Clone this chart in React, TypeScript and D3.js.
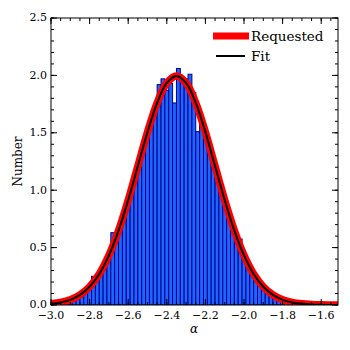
import React from "react";
import * as d3 from "d3";

// histogram bins (left edges), width 0.02
const binStart = -2.93;
const binWidth = 0.02;
const binValues = [
  0.02, 0.04, 0.05, 0.07, 0.1, 0.12, 0.15, 0.25, 0.23, 0.29, 0.35, 0.42, 0.63,
  0.58, 0.68, 0.79, 0.9, 1.02, 1.14, 1.26, 1.38, 1.49, 1.62, 1.72, 1.92, 1.97,
  1.87, 1.93, 1.76, 2.06, 1.98, 1.97, 2.01, 1.85, 1.51, 1.58, 1.49, 1.38, 1.26,
  1.15, 1.02, 0.9, 0.8, 0.69, 0.59, 0.575, 0.42, 0.35, 0.29, 0.24, 0.19, 0.17,
  0.12, 0.09, 0.07, 0.05, 0.03,
];

// fitted / requested curve
const curveX = [
  -3.0, -2.95, -2.9, -2.85, -2.8, -2.75, -2.7, -2.65, -2.6, -2.55, -2.5, -2.45,
  -2.4, -2.35, -2.3, -2.25, -2.2, -2.15, -2.1, -2.05, -2.0, -1.95, -1.9, -1.85,
  -1.8, -1.75, -1.7, -1.65, -1.6, -1.55, -1.5,
];
const curveY = [
  0.01, 0.022, 0.045, 0.088, 0.159, 0.27, 0.432, 0.648, 0.914, 1.21, 1.506,
  1.761, 1.934, 1.995, 1.934, 1.761, 1.506, 1.21, 0.914, 0.648, 0.432, 0.27,
  0.159, 0.088, 0.045, 0.022, 0.01, 0.004, 0.0015, 0.0005, 0.0001,
];

const xTicks = [-3.0, -2.8, -2.6, -2.4, -2.2, -2.0, -1.8, -1.6];
const yTicks = [0.0, 0.5, 1.0, 1.5, 2.0, 2.5];
const legendLabels = ["Requested", "Fit"];

const font = "'DejaVu Serif', serif";

const App = () => {
  const left = 51;
  const right = 338;
  const top = 18;
  const bottom = 305;

  const x = d3.scaleLinear().domain([-3.0, -1.513]).range([left, right]);
  const y = d3.scaleLinear().domain([0, 2.5]).range([bottom, top]);

  const xMinor = d3.range(-3.0, -1.5, 0.05).filter((v) => x(v) <= right + 0.5);
  const yMinor = d3.range(0, 2.51, 0.1);

  const pts = curveX.map((v, i) => [v, curveY[i]] as [number, number]);
  const line = d3
    .line<[number, number]>()
    .x((d) => x(d[0]))
    .y((d) => y(d[1]))
    .curve(d3.curveCatmullRom);
  const path = line(pts) || "";

  const fmt = (v: number) => d3.format(".1f")(v).replace("-", "\u2212");

  return (
    <div style={{ position: "fixed", left: 0, top: 0 }}>
      <svg width={350} height={350} style={{ display: "block", background: "#fff" }}>
        <defs>
          <clipPath id="plot">
            <rect x={left} y={top} width={right - left} height={bottom - top} />
          </clipPath>
        </defs>

        {/* bars */}
        <g clipPath="url(#plot)">
          {binValues.map((v, i) => {
            const x0 = binStart + i * binWidth;
            return (
              <rect
                key={i}
                x={x(x0)}
                y={y(v)}
                width={x(x0 + binWidth) - x(x0)}
                height={y(0) - y(v)}
                fill="#1e64ff"
                stroke="#00008b"
                strokeWidth={1}
              />
            );
          })}
          {/* curves */}
          <path d={path} fill="none" stroke="#ff0000" strokeWidth={7.5} />
          <path d={path} fill="none" stroke="#000" strokeWidth={2} />
        </g>

        {/* frame */}
        <rect
          x={left}
          y={top}
          width={right - left}
          height={bottom - top}
          fill="none"
          stroke="#000"
          strokeWidth={1}
        />

        {/* minor ticks */}
        {xMinor.map((v, i) => (
          <g key={"xm" + i}>
            <line x1={x(v)} x2={x(v)} y1={bottom} y2={bottom - 3} stroke="#000" />
            <line x1={x(v)} x2={x(v)} y1={top} y2={top + 3} stroke="#000" />
          </g>
        ))}
        {yMinor.map((v, i) => (
          <g key={"ym" + i}>
            <line x1={left} x2={left + 3} y1={y(v)} y2={y(v)} stroke="#000" />
            <line x1={right} x2={right - 3} y1={y(v)} y2={y(v)} stroke="#000" />
          </g>
        ))}

        {/* major x ticks */}
        {xTicks.map((t, i) => (
          <g key={"xt" + i}>
            <line x1={x(t)} x2={x(t)} y1={bottom} y2={bottom - 6} stroke="#000" />
            <line x1={x(t)} x2={x(t)} y1={top} y2={top + 6} stroke="#000" />
            <text
              x={x(t)}
              y={bottom + 6}
              dy="0.76em"
              textAnchor="middle"
              fontSize={11}
              fontFamily={font}
              fill="#000"
            >
              {fmt(t)}
            </text>
          </g>
        ))}

        {/* major y ticks */}
        {yTicks.map((t, i) => (
          <g key={"yt" + i}>
            <line x1={left} x2={left + 6} y1={y(t)} y2={y(t)} stroke="#000" />
            <line x1={right} x2={right - 6} y1={y(t)} y2={y(t)} stroke="#000" />
            <text
              x={left - 4}
              y={y(t)}
              dy="0.3em"
              textAnchor="end"
              fontSize={11}
              fontFamily={font}
              fill="#000"
            >
              {fmt(t)}
            </text>
          </g>
        ))}

        {/* axis labels */}
        <text
          x={194}
          y={333}
          textAnchor="middle"
          fontSize={12}
          fontStyle="italic"
          fontFamily={font}
          fill="#000"
        >
          α
        </text>
        <text
          transform={`translate(18, ${(top + bottom) / 2}) rotate(-90)`}
          dy="0.35em"
          textAnchor="middle"
          fontSize={12}
          fontFamily={font}
          fill="#000"
        >
          Number
        </text>

        {/* legend */}
        <line x1={213} x2={249} y1={36} y2={36} stroke="#ff0000" strokeWidth={7} />
        <text x={251} y={36} dy="0.35em" fontSize={13.5} fontFamily={font} fill="#000">
          {legendLabels[0]}
        </text>
        <line x1={216} x2={245} y1={56} y2={56} stroke="#000" strokeWidth={2} />
        <text x={251} y={56} dy="0.35em" fontSize={13.5} fontFamily={font} fill="#000">
          {legendLabels[1]}
        </text>
      </svg>
    </div>
  );
};

export default App;
